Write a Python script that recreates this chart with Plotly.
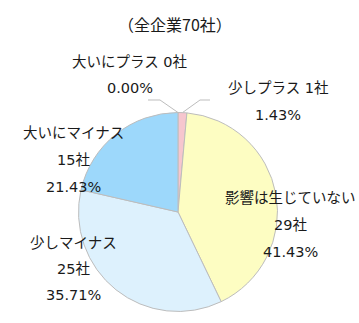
import math
import plotly.graph_objects as go

categories = ["大いにプラス", "少しプラス", "影響は生じていない", "少しマイナス", "大いにマイナス"]
counts = [0, 1, 29, 25, 15]
total = 70
colors = ["#F6C6CE", "#F6C6CE", "#FDFDC2", "#DDF1FD", "#9DD8FB"]

W, H = 359, 323
CX, CY, R = 178, 212, 99.5

def px(x):
    return x / W

def py(y):
    return 1 - y / H

fig = go.Figure(go.Pie(
    labels=categories,
    values=counts,
    sort=False,
    direction="clockwise",
    rotation=0,
    textinfo="none",
    hoverinfo="label+value+percent",
    marker=dict(colors=colors, line=dict(color="#BDBDBD", width=1)),
    domain=dict(x=[px(CX - R), px(CX + R)], y=[py(CY + R), py(CY - R)]),
    showlegend=False,
))

FAM = "DejaVu Sans, Noto Sans CJK JP"
font = dict(family=FAM, size=14.5, color="#1a1a1a")

def pct(v):
    return f"{v / total * 100:.2f}%"

label_layout = {
    0: [(f"{categories[0]} {counts[0]}社", 130, 62), (pct(counts[0]), 130, 88)],
    1: [(f"{categories[1]} {counts[1]}社", 278, 88), (pct(counts[1]), 278, 115)],
    4: [(categories[4], 73, 133), (f"{counts[4]}社", 73, 160), (pct(counts[4]), 73, 187)],
    2: [(categories[2], 290, 198), (f"{counts[2]}社", 290, 225), (pct(counts[2]), 290, 252)],
    3: [(categories[3], 73, 243), (f"{counts[3]}社", 73, 269), (pct(counts[3]), 73, 295)],
}

annotations = [dict(text="（全企業70社）", x=px(175), y=py(24), xref="paper", yref="paper",
                    showarrow=False, font=dict(family="Noto Sans CJK JP", size=16, color="#1a1a1a"),
                    xanchor="center", yanchor="middle")]
for idx, lines in label_layout.items():
    for text, x, y in lines:
        annotations.append(dict(text=text, x=px(x), y=py(y), xref="paper", yref="paper",
                                showarrow=False, font=font, xanchor="center", yanchor="middle"))

cum = 0
mids = []
for v in counts:
    mids.append((cum + v / 2) / total * 2 * math.pi)
    cum += v

shapes = []
elbows = {0: [(160, 100), (148, 100)], 1: [(200, 100), (210, 100)]}
for idx, pts in elbows.items():
    a = mids[idx]
    ax, ay = CX + R * math.sin(a), CY - R * math.cos(a)
    path_pts = [(ax, ay)] + pts
    d = "M " + " L ".join(f"{px(x)},{py(y)}" for x, y in path_pts)
    shapes.append(dict(type="path", path=d, xref="paper", yref="paper",
                       line=dict(color="#BDBDBD", width=1)))

fig.update_layout(
    width=W, height=H,
    margin=dict(l=0, r=0, t=0, b=0),
    paper_bgcolor="white",
    plot_bgcolor="white",
    annotations=annotations,
    shapes=shapes,
)

fig.write_html("out.html")
